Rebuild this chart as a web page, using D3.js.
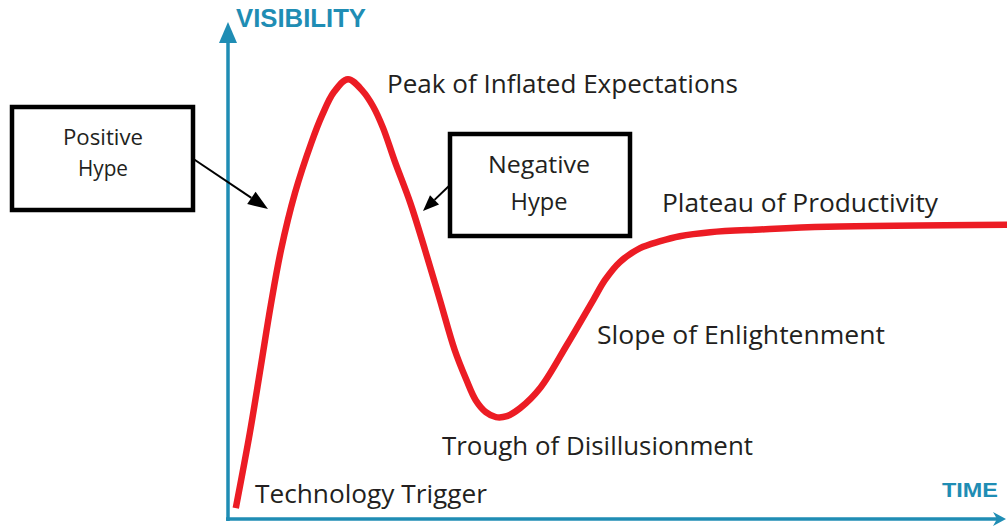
<!DOCTYPE html>
<html>
<head>
<meta charset="utf-8">
<script src="https://cdn.jsdelivr.net/npm/d3@7"></script>
<style>
  html, body { margin: 0; padding: 0; background: #ffffff; }
  svg { display: block; }
</style>
</head>
<body>
<svg id="chart" width="1007" height="529"></svg>
<script>
// ---- data (time / visibility in arbitrary 0-100 units) ----
const timeValues = [1.0, 2.8, 4.2, 5.5, 6.8, 8.6, 10.7, 12.1, 13.6, 15.4, 17.3, 18.6, 19.9, 21.4, 23.4, 25.3, 27.2, 29.1, 30.6, 31.8, 33.1, 34.4, 35.8, 37.5, 40.1, 43.5, 46.9, 48.4, 50.3, 52.9, 55.5, 58.0, 61.9, 68.3, 76.9, 100];
const visibilityValues = [2.2, 17.3, 30.6, 43.1, 54.1, 65.6, 75.7, 81.3, 85.9, 88.5, 86.1, 83.1, 78.7, 72.0, 63.6, 54.1, 44.1, 34.0, 28.0, 23.9, 21.5, 20.5, 20.7, 22.3, 26.4, 35.0, 44.1, 48.1, 51.7, 54.5, 55.9, 56.9, 57.7, 58.25, 58.8, 59.2];
const phaseLabels = ["Technology Trigger", "Peak of Inflated Expectations", "Trough of Disillusionment", "Slope of Enlightenment", "Plateau of Productivity"];
const axisLabels = ["VISIBILITY", "TIME"];
const hypeBoxes = [["Positive", "Hype"], ["Negative", "Hype"]];

const svg = d3.select("#chart");
const x = d3.scaleLinear().domain([0, 100]).range([228, 1007]);
const y = d3.scaleLinear().domain([0, 100]).range([519, 22]);

const axisColor = "#1f8db4";
const textColor = "#231f20";
const fontFam = "'Open Sans', 'Liberation Sans', sans-serif";

// ---- axes ----
svg.append("line").attr("x1", x(0)).attr("y1", y(0) + 2).attr("x2", x(0)).attr("y2", y(100) + 16)
  .attr("stroke", axisColor).attr("stroke-width", 3.5);
svg.append("path")
  .attr("d", `M${x(0)},${y(100)} L${x(0) - 9},${y(100) + 21} L${x(0) + 9},${y(100) + 21} Z`)
  .attr("fill", axisColor);
svg.append("line").attr("x1", x(0) - 2).attr("y1", y(0)).attr("x2", x(100) - 6).attr("y2", y(0))
  .attr("stroke", axisColor).attr("stroke-width", 3.5);
svg.append("path")
  .attr("d", `M${x(100) - 1},${y(0)} L${x(100) - 14},${y(0) - 7} L${x(100) - 10},${y(0)} L${x(100) - 14},${y(0) + 7} Z`)
  .attr("fill", axisColor);

svg.append("text").text(axisLabels[0])
  .attr("x", 236).attr("y", 27)
  .attr("font-family", "'Liberation Sans', Arial, sans-serif").attr("font-weight", "bold")
  .attr("font-size", 25).attr("fill", axisColor)
  .attr("textLength", 130).attr("lengthAdjust", "spacingAndGlyphs");
svg.append("text").text(axisLabels[1])
  .attr("x", 942).attr("y", 497)
  .attr("font-family", "'Liberation Sans', Arial, sans-serif").attr("font-weight", "bold")
  .attr("font-size", 21).attr("fill", axisColor)
  .attr("textLength", 56).attr("lengthAdjust", "spacingAndGlyphs");

// ---- hype curve ----
const pts = timeValues.map((t, i) => [t, visibilityValues[i]]);
const line = d3.line().x(d => x(d[0])).y(d => y(d[1])).curve(d3.curveCatmullRom.alpha(0.5));
svg.append("path").datum(pts).attr("d", line)
  .attr("fill", "none").attr("stroke", "#ec1c24").attr("stroke-width", 6.5)
  .attr("stroke-linecap", "butt").attr("stroke-linejoin", "round");

// ---- phase labels ----
const labelPos = [
  { x: 255, y: 503, w: 232 },
  { x: 387, y: 93, w: 351 },
  { x: 442, y: 455, w: 311 },
  { x: 597, y: 344, w: 288 },
  { x: 662, y: 212, w: 276 }
];
svg.selectAll("text.phase").data(phaseLabels).join("text")
  .attr("class", "phase")
  .attr("x", (d, i) => labelPos[i].x).attr("y", (d, i) => labelPos[i].y)
  .attr("font-family", fontFam).attr("font-size", 25).attr("fill", textColor)
  .attr("textLength", (d, i) => labelPos[i].w).attr("lengthAdjust", "spacingAndGlyphs")
  .text(d => d);

// ---- hype boxes ----
const boxGeom = [
  { x: 12, y: 107, w: 181, h: 103, cx: 103, lines: [145, 176], fs: 22, tw: [80, 50] },
  { x: 450, y: 134, w: 180, h: 102, cx: 539, lines: [173, 210], fs: 24, tw: [102, 57] }
];
boxGeom.forEach((b, i) => {
  svg.append("rect").attr("x", b.x).attr("y", b.y).attr("width", b.w).attr("height", b.h)
    .attr("fill", "#fff").attr("stroke", "#000").attr("stroke-width", 4.5);
  hypeBoxes[i].forEach((t, j) => {
    svg.append("text").text(t).attr("x", b.cx).attr("y", b.lines[j])
      .attr("text-anchor", "middle").attr("font-family", fontFam)
      .attr("font-size", b.fs).attr("fill", textColor)
      .attr("textLength", b.tw[j]).attr("lengthAdjust", "spacingAndGlyphs");
  });
});

// ---- annotation arrows ----
function arrow(x1, y1, x2, y2, headLen, headW) {
  const ang = Math.atan2(y2 - y1, x2 - x1);
  const bx = x2 - headLen * Math.cos(ang), by = y2 - headLen * Math.sin(ang);
  svg.append("line").attr("x1", x1).attr("y1", y1).attr("x2", bx).attr("y2", by)
    .attr("stroke", "#000").attr("stroke-width", 2);
  const px = -Math.sin(ang) * headW / 2, py = Math.cos(ang) * headW / 2;
  svg.append("path")
    .attr("d", `M${x2},${y2} L${bx + px},${by + py} L${bx - px},${by - py} Z`)
    .attr("fill", "#000");
}
arrow(192, 158, 268, 209, 20, 15);
arrow(450, 185, 423, 211, 16, 13);
</script>
</body>
</html>
